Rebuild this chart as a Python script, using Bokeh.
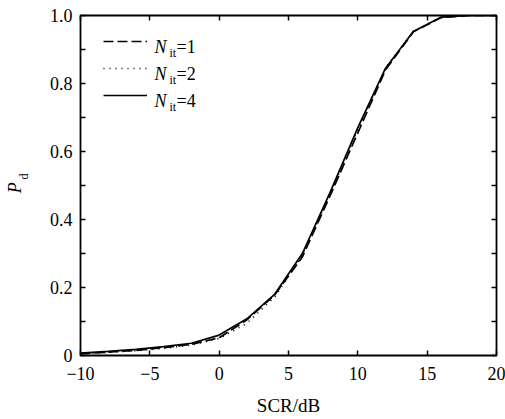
import math
from bokeh.plotting import figure
from bokeh.models import Range1d, FixedTicker, LinearAxis, Legend, LegendItem, Label
from bokeh.core.properties import value
from bokeh.embed import file_html
from bokeh.resources import INLINE

# ---- data ----
scr_db = [-10, -8, -6, -4, -2, 0, 2, 4, 6, 8, 10, 12, 14, 16, 18, 20]
pd_nit1 = [0.005, 0.010, 0.015, 0.023, 0.033, 0.052, 0.105, 0.178, 0.290, 0.470, 0.655, 0.840, 0.952, 0.994, 1.0, 1.0]
pd_nit2 = [0.004, 0.009, 0.014, 0.021, 0.031, 0.050, 0.095, 0.172, 0.295, 0.475, 0.665, 0.845, 0.953, 0.995, 1.0, 1.0]
pd_nit4 = [0.007, 0.012, 0.018, 0.026, 0.036, 0.060, 0.108, 0.180, 0.300, 0.480, 0.670, 0.845, 0.953, 0.995, 1.0, 1.0]

x_ticks = [-10, -5, 0, 5, 10, 15, 20]
x_tick_labels = ["\u221210", "\u22125", "0", "5", "10", "15", "20"]
y_ticks = [0, 0.2, 0.4, 0.6, 0.8, 1.0]
y_minor_ticks = [0.1, 0.3, 0.5, 0.7, 0.9]
y_tick_labels = ["0", "0.2", "0.4", "0.6", "0.8", "1.0"]
legend_nit = ["1", "2", "4"]
x_label = "SCR/dB"
y_label_main = "P"
y_label_sub = "d"

FONT = "Liberation Serif"
NBSP = "\u00a0"

p = figure(width=505, height=419, output_backend="svg", toolbar_location=None,
           x_range=Range1d(-10, 20), y_range=Range1d(0, 1),
           min_border_left=80, min_border_right=9, min_border_top=15, min_border_bottom=64,
           background_fill_color="white", border_fill_color="white")
p.xgrid.visible = False
p.ygrid.visible = False
p.outline_line_color = "black"
p.outline_line_width = 1.8
p.outline_line_alpha = 1.0

xt = FixedTicker(ticks=x_ticks, minor_ticks=[])
yt = FixedTicker(ticks=y_ticks, minor_ticks=y_minor_ticks)


def style(ax, show_labels, ticks=True):
    ax.axis_line_color = None
    ax.major_tick_in = 5 if ticks else 0
    ax.major_tick_out = 0
    ax.minor_tick_in = 5 if ticks else 0
    ax.minor_tick_out = 0
    ax.major_tick_line_color = "black" if ticks else None
    ax.minor_tick_line_color = "black" if ticks else None
    ax.major_tick_line_width = 1.5
    ax.minor_tick_line_width = 1.5
    if show_labels:
        ax.major_label_text_font = FONT
        ax.major_label_text_font_size = "18px"
        ax.major_label_text_color = "black"
    else:
        ax.major_label_text_font_size = "0px"
        ax.major_label_standoff = 0


# bottom axis
xa = p.xaxis[0]
xa.ticker = xt
style(xa, True)
xa.major_label_overrides = {t: s for t, s in zip(x_ticks, x_tick_labels)}
xa.major_label_standoff = 11
xa.axis_label = x_label
xa.axis_label_text_font = FONT
xa.axis_label_text_font_size = "19px"
xa.axis_label_text_font_style = "normal"
xa.axis_label_text_color = "black"
xa.axis_label_standoff = 12

# left axis (ticks + labels), its axis label carries the subscript "d"
ya = p.yaxis[0]
ya.ticker = yt
style(ya, True)
ya.major_label_overrides = {t: s for t, s in zip(y_ticks, y_tick_labels)}
ya.major_label_standoff = 8
ya.axis_label = NBSP * 6 + y_label_sub
ya.axis_label_text_font = FONT
ya.axis_label_text_font_size = "12px"
ya.axis_label_text_font_style = "normal"
ya.axis_label_text_color = "black"
ya.axis_label_standoff = 16

# outer left axis: only the italic "P"
ya2 = LinearAxis(ticker=FixedTicker(ticks=[], minor_ticks=[]))
style(ya2, False, ticks=False)
ya2.axis_label = y_label_main + NBSP
ya2.axis_label_text_font = FONT
ya2.axis_label_text_font_size = "18px"
ya2.axis_label_text_font_style = "italic"
ya2.axis_label_text_color = "black"
ya2.axis_label_standoff = -11
p.add_layout(ya2, "left")

top = LinearAxis(ticker=FixedTicker(ticks=x_ticks, minor_ticks=[]))
style(top, False)
p.add_layout(top, "above")
right = LinearAxis(ticker=FixedTicker(ticks=y_ticks, minor_ticks=y_minor_ticks))
style(right, False)
p.add_layout(right, "right")

LW = 1.7
r1 = p.line(scr_db, pd_nit1, line_color="black", line_width=LW, line_dash="10 4")
r2 = p.line(scr_db, pd_nit2, line_color="black", line_width=LW, line_dash="1 5")
r4 = p.line(scr_db, pd_nit4, line_color="black", line_width=LW)

legend = Legend(items=[LegendItem(label=value(" "), renderers=[r]) for r in (r1, r2, r4)],
                location=(23, 250), glyph_width=44, glyph_height=20, label_height=20,
                label_width=0, label_standoff=0, spacing=7, padding=0, margin=0,
                background_fill_alpha=0, border_line_color=None)
p.add_layout(legend)

FRAME_BOTTOM = 355
FRAME_LEFT = 80


def add_text(cx, cy, text, size, italic=False):
    # cx, cy: canvas position of the text's baseline start
    p.add_layout(Label(x=cx - FRAME_LEFT, y=FRAME_BOTTOM - cy, x_units="screen", y_units="screen",
                       text=text, text_font=FONT, text_font_style="italic" if italic else "normal",
                       text_font_size=size, text_baseline="alphabetic",
                       text_align="left", text_color="black"))


# legend texts: N_it = k
for i, k in enumerate(legend_nit):
    base = 41 + 27 * i + 5.7
    add_text(154, base, "N", "18px", italic=True)
    add_text(169, base + 5.5, "it", "12px")
    add_text(176, base, "=" + k, "18px")

open("out.html", "w").write(file_html(p, INLINE))
